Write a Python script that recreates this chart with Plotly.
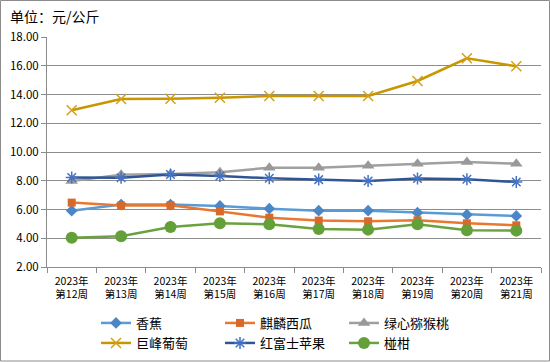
import plotly.graph_objects as go

weeks = ["2023年<br>第12周", "2023年<br>第13周", "2023年<br>第14周", "2023年<br>第15周", "2023年<br>第16周",
         "2023年<br>第17周", "2023年<br>第18周", "2023年<br>第19周", "2023年<br>第20周", "2023年<br>第21周"]

banana = [5.92, 6.34, 6.34, 6.25, 6.06, 5.92, 5.92, 5.78, 5.64, 5.55]
watermelon = [6.48, 6.27, 6.29, 5.87, 5.43, 5.23, 5.18, 5.25, 5.04, 4.90]
kiwi = [7.98, 8.42, 8.47, 8.59, 8.91, 8.91, 9.05, 9.19, 9.30, 9.19]
grape = [12.90, 13.69, 13.71, 13.77, 13.90, 13.90, 13.90, 14.94, 16.52, 15.96]
apple = [8.22, 8.21, 8.43, 8.33, 8.17, 8.08, 7.98, 8.15, 8.10, 7.91]
citrus = [4.04, 4.14, 4.78, 5.04, 4.97, 4.64, 4.60, 4.97, 4.55, 4.53]

yticks = [2, 4, 6, 8, 10, 12, 14, 16, 18]

FONT = "Noto Sans CJK SC"

series = [
    ("香蕉", banana, "#5B9BD5", dict(symbol="diamond", size=9, color="#4A86C8"), "legend"),
    ("麒麟西瓜", watermelon, "#E8782F", dict(symbol="square", size=8, color="#D9692A"), "legend"),
    ("绿心猕猴桃", kiwi, "#A0A0A0", dict(symbol="triangle-up", size=11, color="#999999"), "legend"),
    ("巨峰葡萄", grape, "#C89600", dict(symbol="x-thin-open", size=10, color="#D4A017", line=dict(width=1.5, color="#D4A017")), "legend2"),
    ("红富士苹果", apple, "#2F5597", dict(symbol="asterisk-open", size=10, color="#4472C4", line=dict(width=1.5, color="#4472C4")), "legend2"),
    ("椪柑", citrus, "#6AA23F", dict(symbol="circle", size=12, color="#64A03A"), "legend2"),
]

fig = go.Figure()
for name, vals, col, mk, lg in series:
    fig.add_trace(go.Scatter(
        x=weeks, y=vals, name=name, mode="lines+markers",
        line=dict(color=col, width=2.5), marker=mk, legend=lg,
    ))

L, R, T, B = 47, 9, 37, 95
W, H = 550, 362
pw, ph = W - L - R, H - T - B

def px_x(x):
    return (x - L) / pw

def px_y(y):
    return (H - B - y) / ph

def leg(ycenter):
    return dict(orientation="h", x=px_x(96), xanchor="left", y=px_y(ycenter), yanchor="middle",
                font=dict(family=FONT, size=13, color="#000000"),
                entrywidth=79, entrywidthmode="pixels", itemwidth=30,
                bgcolor="rgba(0,0,0,0)", itemclick=False, itemdoubleclick=False)

fig.update_layout(
    width=W, height=H,
    margin=dict(l=L, r=R, t=T, b=B, autoexpand=False),
    paper_bgcolor="white", plot_bgcolor="white",
    font=dict(family=FONT, size=11, color="#000000"),
    title=dict(text="单位：元/公斤", x=10 / W, xanchor="left", y=1 - 17 / H, yanchor="middle",
               font=dict(family=FONT, size=14, color="#000000")),
    showlegend=True,
    legend=leg(323),
    legend2=leg(343),
    xaxis=dict(type="category", showline=True, linecolor="#8C8C8C", linewidth=1,
               ticks="outside", tickson="boundaries", ticklen=5, tickcolor="#8C8C8C",
               showgrid=False, tickfont=dict(family=FONT, size=10.5), range=[-0.5, 9.5],
               automargin=False, ticklabelstandoff=4),
    yaxis=dict(range=[2, 18], tickvals=yticks, tickformat=".2f", showline=True, linecolor="#8C8C8C",
               linewidth=1, ticks="outside", ticklen=5, tickcolor="#8C8C8C",
               showgrid=True, gridcolor="#8C8C8C", gridwidth=1, zeroline=False,
               tickfont=dict(family=FONT, size=11.5), automargin=False),
    shapes=[dict(type="rect", xref="paper", yref="paper",
                 x0=px_x(0.5), x1=px_x(549.5), y0=px_y(361), y1=px_y(0.5),
                 line=dict(color="#8C8C8C", width=1), fillcolor="rgba(0,0,0,0)", layer="below")],
)

fig.write_html("out.html", config={"displayModeBar": False},
               post_script="document.body.style.margin='0';document.body.style.overflow='hidden';")
